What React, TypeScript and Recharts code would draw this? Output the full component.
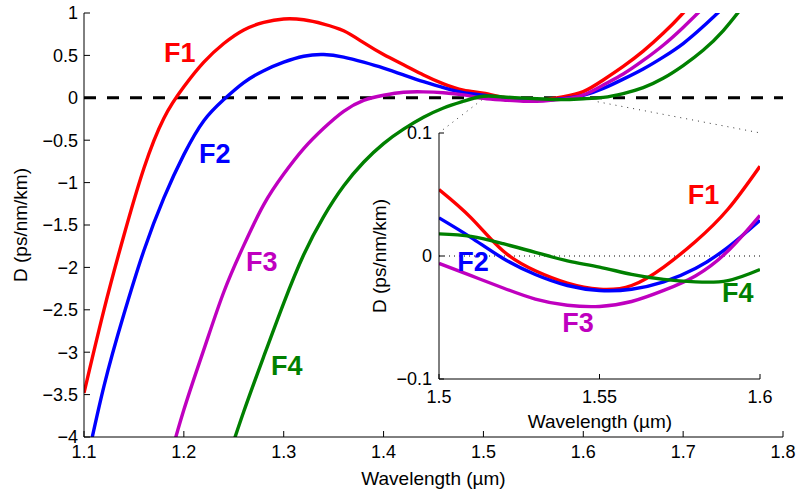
import React from "react";
import { LineChart, Line, XAxis, YAxis, ReferenceLine, ReferenceDot, CartesianGrid } from "recharts";

const FONT = "'Liberation Sans', Arial, Helvetica, sans-serif";

// main axes: wavelength grid (um) and D (ps/nm/km); null = curve off the plot
const mainWl = [1.10, 1.12, 1.14, 1.16, 1.18, 1.20, 1.22, 1.24, 1.26, 1.28, 1.30, 1.32, 1.34, 1.36, 1.38, 1.40, 1.42, 1.44, 1.46, 1.48, 1.50, 1.52, 1.54, 1.56, 1.58, 1.60, 1.62, 1.64, 1.66, 1.68, 1.70, 1.72, 1.74, 1.76];
const f1Main = [-3.48, -2.50, -1.62, -0.83, -0.24, 0.13, 0.42, 0.64, 0.80, 0.89, 0.93, 0.92, 0.87, 0.79, 0.65, 0.51, 0.39, 0.27, 0.165, 0.09, 0.054, 0.004, -0.022, -0.023, 0.012, 0.073, 0.21, 0.37, 0.55, 0.76, 1.0, 1.27, null, null];
const f2Main = [-4.45, -3.40, -2.55, -1.80, -1.18, -0.67, -0.27, -0.02, 0.18, 0.32, 0.42, 0.49, 0.51, 0.48, 0.42, 0.35, 0.27, 0.19, 0.12, 0.06, 0.031, -0.002, -0.024, -0.027, -0.010, 0.029, 0.11, 0.22, 0.34, 0.48, 0.64, 0.84, 1.06, null];
const f3Main = [null, null, null, null, -4.5, -3.68, -2.97, -2.29, -1.74, -1.26, -0.90, -0.60, -0.36, -0.16, -0.03, 0.03, 0.065, 0.07, 0.06, 0.035, -0.006, -0.026, -0.040, -0.037, -0.016, 0.033, 0.15, 0.28, 0.44, 0.62, 0.83, 1.06, null, null];
const f4Main = [null, null, null, null, null, null, null, -4.4, -3.70, -3.05, -2.42, -1.85, -1.40, -1.04, -0.76, -0.54, -0.37, -0.23, -0.12, -0.04, 0.018, 0.010, -0.004, -0.015, -0.021, -0.011, 0.005, 0.05, 0.12, 0.23, 0.38, 0.56, 0.79, 1.08];

// inset (zoom on 1.5 - 1.6 um)
const insetWl = [1.50, 1.51, 1.52, 1.53, 1.54, 1.55, 1.56, 1.57, 1.58, 1.59, 1.60];
const f1Inset = [0.054, 0.031, 0.004, -0.012, -0.022, -0.027, -0.024, -0.009, 0.012, 0.038, 0.073];
const f2Inset = [0.031, 0.015, -0.002, -0.015, -0.024, -0.028, -0.027, -0.021, -0.010, 0.007, 0.029];
const f3Inset = [-0.006, -0.016, -0.026, -0.035, -0.040, -0.041, -0.037, -0.028, -0.016, 0.004, 0.033];
const f4Inset = [0.018, 0.016, 0.010, 0.003, -0.004, -0.009, -0.015, -0.019, -0.021, -0.020, -0.011];

const mainXTicks = [1.1, 1.2, 1.3, 1.4, 1.5, 1.6, 1.7, 1.8];
const mainYTicks = [-4, -3.5, -3, -2.5, -2, -1.5, -1, -0.5, 0, 0.5, 1];
const insetXTicks = [1.5, 1.55, 1.6];
const insetYTicks = [-0.1, 0, 0.1];

const names = ["F1", "F2", "F3", "F4"];
const colors = ["#ff0000", "#0000ff", "#bf00bf", "#008000"];
const mainSeries = [f1Main, f2Main, f3Main, f4Main];
const insetSeries = [f1Inset, f2Inset, f3Inset, f4Inset];

// where the curve names sit, in data units
const mainLabelX = [1.196, 1.231, 1.278, 1.303];
const mainLabelY = [0.53, -0.66, -1.93, -3.15];
const insetLabelX = [1.5824, 1.5106, 1.5433, 1.5931];
const insetLabelY = [0.05, -0.004, -0.054, -0.03];

// dotted lines from the zoomed region to the inset corners (main data units)
const zoomLeft = [{ x: 1.4984, y: -0.024 }, { x: 1.4554, y: -0.413 }];
const zoomRight = [{ x: 1.6145, y: -0.047 }, { x: 1.7767, y: -0.413 }];

const toPoints = (wl: number[], vals: (number | null)[]) =>
  wl.map((w, i) => ({ w, d: vals[i] })).filter((p) => p.d !== null);

const fmt = (v: number) => String(v).replace("-", "\u2212");

const TICK_FS = 18;
const LW = 3.4;

const makeTick = (side: string, len: number, gap: number, showText: boolean) => (props: any) => {
  const { x, y, payload } = props;
  const txt = showText ? fmt(payload.value) : "";
  if (side === "bottom") {
    return (
      <g>
        <line x1={x} x2={x} y1={y - gap} y2={y - gap - len} stroke="#000" />
        {showText && (
          <text x={x} y={y} dy="0.71em" textAnchor="middle" fontSize={TICK_FS} fontFamily={FONT} fill="#000">{txt}</text>
        )}
      </g>
    );
  }
  if (side === "left") {
    return (
      <g>
        <line x1={x + gap} x2={x + gap + len} y1={y} y2={y} stroke="#000" />
        {showText && (
          <text x={x} y={y} dy="0.355em" textAnchor="end" fontSize={TICK_FS} fontFamily={FONT} fill="#000">{txt}</text>
        )}
      </g>
    );
  }
  if (side === "top") {
    return <line x1={x} x2={x} y1={y} y2={y + len} stroke="#000" />;
  }
  return <line x1={x} x2={x - len} y1={y} y2={y} stroke="#000" />;
};

const axisTitle = (x: number, y: number, text: string, rotate: boolean) => () => (
  <text
    x={x}
    y={y}
    textAnchor="middle"
    fontSize={19}
    fontFamily={FONT}
    fill="#000"
    transform={rotate ? `rotate(-90, ${x}, ${y})` : undefined}
  >
    {text}
  </text>
);

const nameLabel = (name: string, color: string) => ({
  value: name,
  position: "center" as const,
  fill: color,
  fontSize: 27,
  fontWeight: "bold",
  fontFamily: FONT,
});

export default function App() {
  return (
    <div style={{ position: "absolute", left: 0, top: 0, width: 798, height: 491, background: "#fff" }}>
      <LineChart width={798} height={491} margin={{ top: 13, right: 15, bottom: 0, left: 0 }}>
        <XAxis
          dataKey="w"
          type="number"
          domain={[1.1, 1.8]}
          ticks={mainXTicks}
          interval={0}
          allowDataOverflow
          height={54}
          stroke="#000"
          tickLine={false}
          tickSize={0}
          tickMargin={8}
          tick={makeTick("bottom", 6, 8, true)}
          label={{ content: axisTitle(433.5, 485, "Wavelength (\u00b5m)", false) }}
        />
        <XAxis
          xAxisId="top"
          orientation="top"
          dataKey="w"
          type="number"
          domain={[1.1, 1.8]}
          ticks={mainXTicks}
          interval={0}
          allowDataOverflow
          height={0}
          stroke="#000"
          tickLine={false}
          tickSize={0}
          tickMargin={0}
          tick={makeTick("top", 6, 0, false)}
        />
        <YAxis
          type="number"
          domain={[-4, 1]}
          ticks={mainYTicks}
          interval={0}
          allowDataOverflow
          width={84}
          stroke="#000"
          tickLine={false}
          tickSize={0}
          tickMargin={6}
          tick={makeTick("left", 6, 6, true)}
          label={{ content: axisTitle(27, 225, "D (ps/nm/km)", true) }}
        />
        <YAxis
          yAxisId="right"
          orientation="right"
          type="number"
          domain={[-4, 1]}
          ticks={mainYTicks}
          interval={0}
          allowDataOverflow
          width={0}
          stroke="#000"
          tickLine={false}
          tickSize={0}
          tickMargin={0}
          tick={makeTick("right", 6, 0, false)}
        />
        <ReferenceLine y={0} stroke="#000" strokeWidth={3} strokeDasharray="12 11" />
        <ReferenceLine segment={zoomLeft} stroke="#333" strokeWidth={1} strokeDasharray="1 5" />
        <ReferenceLine segment={zoomRight} stroke="#333" strokeWidth={1} strokeDasharray="1 5" />
        {mainSeries.map((vals, i) => (
          <Line
            key={names[i]}
            data={toPoints(mainWl, vals)}
            dataKey="d"
            type="natural"
            stroke={colors[i]}
            strokeWidth={LW}
            dot={false}
            activeDot={false}
            isAnimationActive={false}
          />
        ))}
        {names.map((n, i) => (
          <ReferenceDot key={n} x={mainLabelX[i]} y={mainLabelY[i]} r={0} fill="none" stroke="none" label={nameLabel(n, colors[i])} />
        ))}
      </LineChart>

      <div style={{ position: "absolute", left: 340, top: 100 }}>
        <LineChart width={440} height={340} margin={{ top: 33, right: 20, bottom: 0, left: 0 }}>
          <CartesianGrid horizontal={false} vertical={false} fill="#fff" fillOpacity={1} />
          <XAxis
            dataKey="w"
            type="number"
            domain={[1.5, 1.6]}
            ticks={insetXTicks}
            interval={0}
            allowDataOverflow
            height={61}
            stroke="#000"
            tickLine={false}
            tickSize={0}
            tickMargin={11}
            tick={makeTick("bottom", 5, 11, true)}
            label={{ content: axisTitle(260, 327.5, "Wavelength (\u00b5m)", false) }}
          />
          <XAxis
            xAxisId="top"
            orientation="top"
            dataKey="w"
            type="number"
            domain={[1.5, 1.6]}
            ticks={insetXTicks}
            interval={0}
            allowDataOverflow
            height={0}
            stroke="#000"
            tickLine={false}
            tickSize={0}
            tickMargin={0}
            tick={makeTick("top", 5, 0, false)}
          />
          <YAxis
            type="number"
            domain={[-0.1, 0.1]}
            ticks={insetYTicks}
            interval={0}
            allowDataOverflow
            width={99}
            stroke="#000"
            tickLine={false}
            tickSize={0}
            tickMargin={7}
            tick={makeTick("left", 5, 7, true)}
            label={{ content: axisTitle(46, 156, "D (ps/nm/km)", true) }}
          />
          <YAxis
            yAxisId="right"
            orientation="right"
            type="number"
            domain={[-0.1, 0.1]}
            ticks={insetYTicks}
            interval={0}
            allowDataOverflow
            width={0}
            stroke="#000"
            tickLine={false}
            tickSize={0}
            tickMargin={0}
            tick={makeTick("right", 5, 0, false)}
          />
          <ReferenceLine y={0} stroke="#000" strokeWidth={1} strokeDasharray="1 4" />
          {insetSeries.map((vals, i) => (
            <Line
              key={names[i]}
              data={toPoints(insetWl, vals)}
              dataKey="d"
              type="natural"
              stroke={colors[i]}
              strokeWidth={LW}
              dot={false}
              activeDot={false}
              isAnimationActive={false}
            />
          ))}
          {names.map((n, i) => (
            <ReferenceDot key={n} x={insetLabelX[i]} y={insetLabelY[i]} r={0} fill="none" stroke="none" label={nameLabel(n, colors[i])} />
          ))}
        </LineChart>
      </div>
    </div>
  );
}
